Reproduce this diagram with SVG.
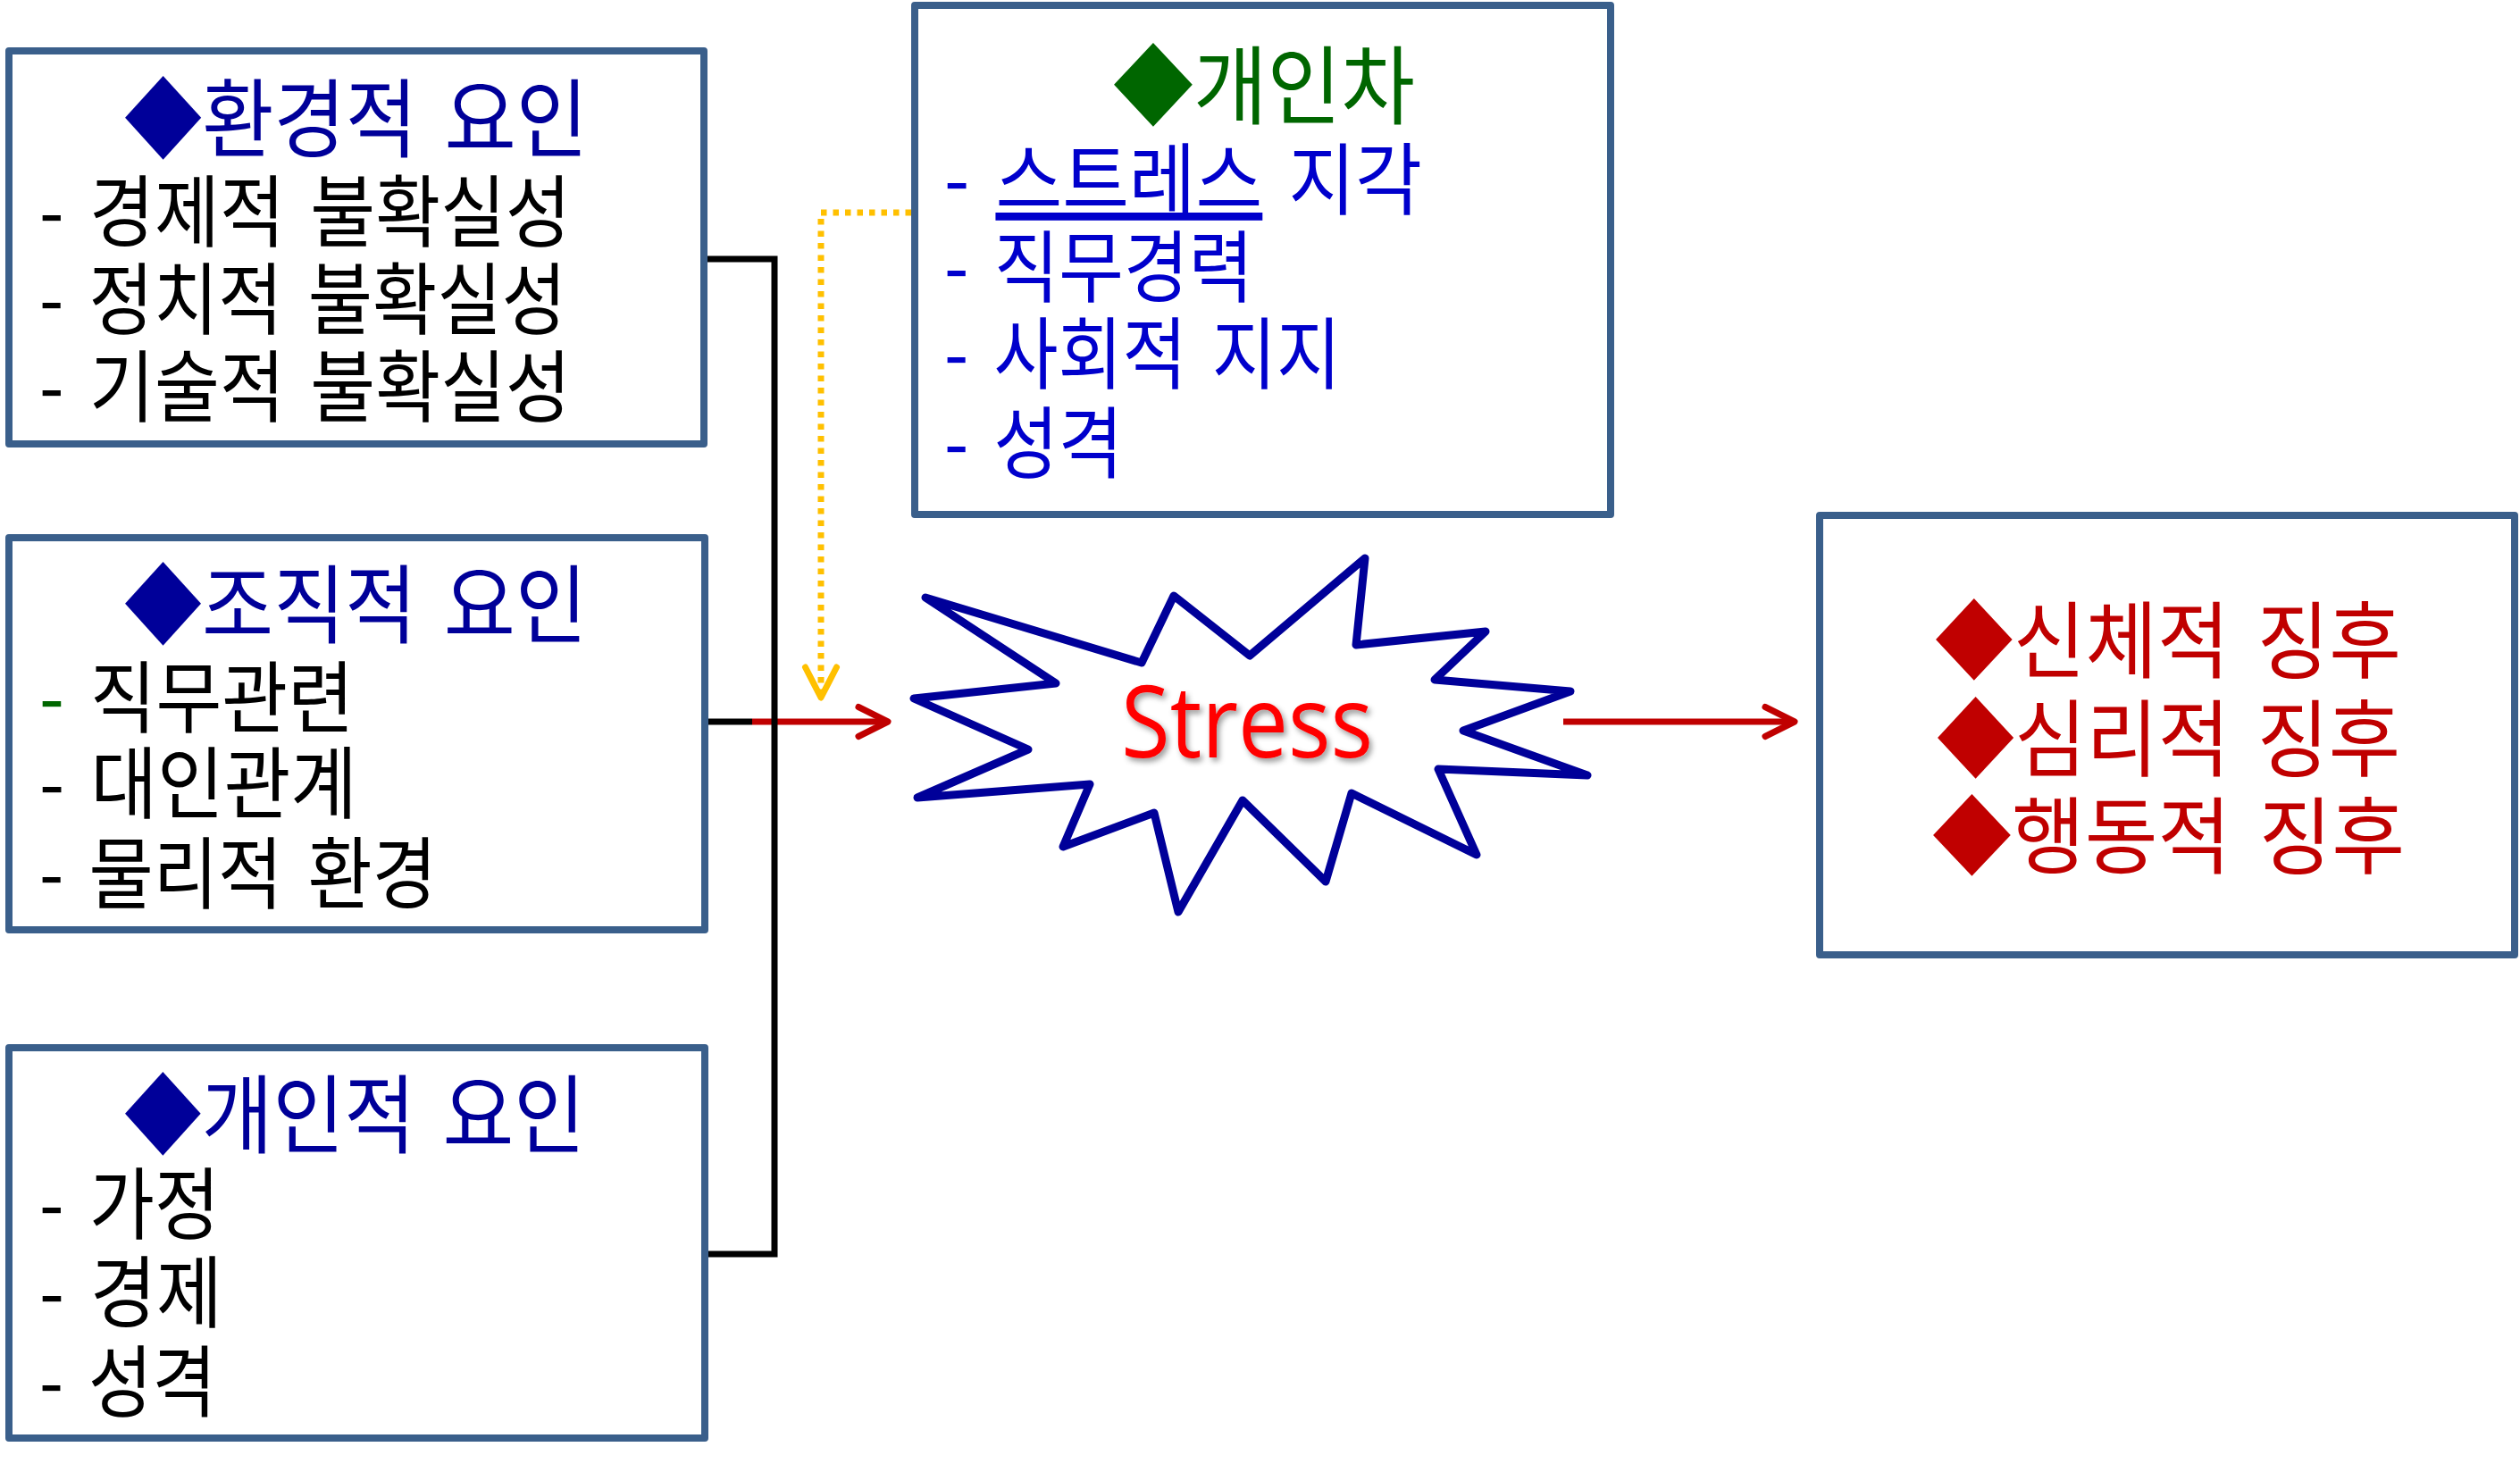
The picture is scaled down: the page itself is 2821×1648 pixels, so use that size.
<svg xmlns="http://www.w3.org/2000/svg" width="2821" height="1648" viewBox="0 0 2821 1648">
<defs>
<style>
.box{fill:#fff;stroke:#3A5F8B;stroke-width:8;stroke-linejoin:round}
.t{font-family:"Noto Sans CJK KR","Noto Sans",sans-serif;word-spacing:12px}
.title{font-size:96px;fill:#000099}
.body{font-size:88px;fill:#000}
.blue{fill:#0000CC}
.green{fill:#006600}
.red{fill:#C00000;font-size:94px}
.wire{fill:none;stroke:#000;stroke-width:7}
.redline{fill:none;stroke:#C00000;stroke-width:7}
.dot{fill:none;stroke:#FFC000;stroke-width:7;stroke-dasharray:6.5 7}
</style>
<marker id="arrRed" markerUnits="userSpaceOnUse" viewBox="-42 -26 50 52" markerWidth="50" markerHeight="52" refX="0" refY="0" orient="auto">
<path d="M-33,-16.5 L0,0 L-33,16.5" fill="none" stroke="#C00000" stroke-width="7" stroke-linecap="round" stroke-linejoin="round"/>
</marker>
<marker id="arrYel" markerUnits="userSpaceOnUse" viewBox="-42 -26 50 52" markerWidth="50" markerHeight="52" refX="0" refY="0" orient="auto">
<path d="M-34,-17.5 L0,0 L-34,17.5" fill="none" stroke="#FFC000" stroke-width="7" stroke-linecap="round" stroke-linejoin="round"/>
</marker>
<filter id="shadow" x="-20%" y="-20%" width="140%" height="140%">
<feDropShadow dx="3" dy="4" stdDeviation="3" flood-color="#000" flood-opacity="0.4"/>
</filter>
</defs>

<g id="connectors">
<line class="redline" x1="842" y1="808" x2="994" y2="808" marker-end="url(#arrRed)"/>
<path class="wire" d="M791,290 H867 V1404 H793"/>
<line class="wire" x1="793" y1="808" x2="842" y2="808"/>
<path class="dot" d="M1020,238 H919 V781" marker-end="url(#arrYel)"/>
<line class="redline" x1="1750" y1="808" x2="2009" y2="808" marker-end="url(#arrRed)"/>
</g>

<g id="node-env">
<rect class="box" x="10" y="57" width="778" height="440"/>
<text class="t title" x="139" y="168" textLength="519" lengthAdjust="spacingAndGlyphs">◆환경적 요인</text>
<text class="t body" x="44" y="269" textLength="595" lengthAdjust="spacingAndGlyphs">- 경제적 불확실성</text>
<text class="t body" x="44" y="367" textLength="590" lengthAdjust="spacingAndGlyphs">- 정치적 불확실성</text>
<text class="t body" x="44" y="465" textLength="595" lengthAdjust="spacingAndGlyphs">- 기술적 불확실성</text>
</g>

<g id="node-org">
<rect class="box" x="10" y="602" width="779" height="439"/>
<text class="t title" x="139" y="712" textLength="518" lengthAdjust="spacingAndGlyphs">◆조직적 요인</text>
<text class="t body" x="44" y="813" textLength="352" lengthAdjust="spacingAndGlyphs"><tspan class="green">-</tspan> 직무관련</text>
<text class="t body" x="44" y="909" textLength="356" lengthAdjust="spacingAndGlyphs">- 대인관계</text>
<text class="t body" x="44" y="1010" textLength="445" lengthAdjust="spacingAndGlyphs">- 물리적 환경</text>
</g>

<g id="node-personal">
<rect class="box" x="10" y="1173" width="779" height="437"/>
<text class="t title" x="139" y="1283" textLength="516" lengthAdjust="spacingAndGlyphs">◆개인적 요인</text>
<text class="t body" x="44" y="1380" textLength="202" lengthAdjust="spacingAndGlyphs">- 가정</text>
<text class="t body" x="44" y="1479" textLength="205" lengthAdjust="spacingAndGlyphs">- 경제</text>
<text class="t body" x="44" y="1579" textLength="198" lengthAdjust="spacingAndGlyphs">- 성격</text>
</g>

<g id="node-individual">
<rect class="box" x="1024" y="6" width="779" height="570"/>
<text class="t title green" x="1246" y="131" textLength="338" lengthAdjust="spacingAndGlyphs">◆개인차</text>
<text class="t body blue" x="1057" y="233" textLength="535" lengthAdjust="spacingAndGlyphs">- <tspan text-decoration="underline">스트레스</tspan> 지각</text>
<text class="t body blue" x="1057" y="331" textLength="346" lengthAdjust="spacingAndGlyphs">- 직무경력</text>
<text class="t body blue" x="1057" y="428" textLength="444" lengthAdjust="spacingAndGlyphs">- 사회적 지지</text>
<text class="t body blue" x="1057" y="528" textLength="200" lengthAdjust="spacingAndGlyphs">- 성격</text>
</g>

<g id="node-stress">
<polygon points="1036,669 1278,742 1314,667 1399,734 1528,625 1518,722 1663,707 1606,761 1758,774 1638,818 1777,868 1610,861 1653,957 1513,888 1484,987 1391,896 1319,1021 1292,910 1190,948 1220,878 1027,893 1151,839 1023,782 1182,765" fill="#fff" stroke="#000099" stroke-width="9" stroke-linejoin="round"/>
<text x="1255" y="848" font-family="'Open Sans','Noto Sans',sans-serif" font-size="112" fill="#FF0000" textLength="282" lengthAdjust="spacingAndGlyphs" filter="url(#shadow)">Stress</text>
</g>

<g id="node-symptoms">
<rect class="box" x="2037" y="577" width="778" height="492"/>
<text class="t red" x="2166" y="752" textLength="522" lengthAdjust="spacingAndGlyphs">◆신체적 징후</text>
<text class="t red" x="2168" y="862" textLength="519" lengthAdjust="spacingAndGlyphs">◆심리적 징후</text>
<text class="t red" x="2163" y="971" textLength="529" lengthAdjust="spacingAndGlyphs">◆행동적 징후</text>
</g>
</svg>
